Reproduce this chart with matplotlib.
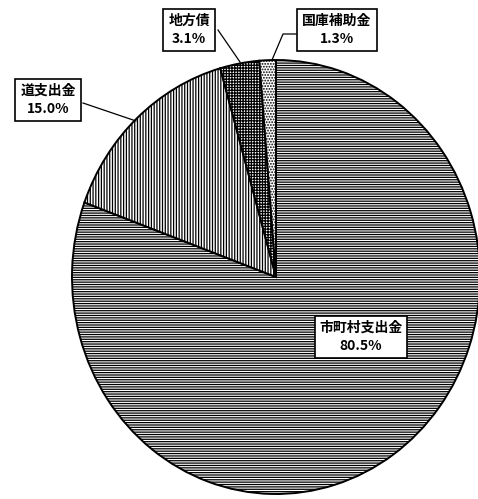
import matplotlib
matplotlib.use("Agg")
import matplotlib.pyplot as plt

plt.rcParams["font.family"] = ["Noto Sans CJK JP", "DejaVu Sans"]
plt.rcParams["hatch.linewidth"] = 0.9

labels = ["市町村支出金", "道支出金", "地方債", "国庫補助金"]
shares = [80.5, 15.0, 3.1, 1.3]
pct_text = ["80.5%", "15.0%", "3.1%", "1.3%"]
hatches = ["-------", "||||||", "++++++", "......"]

# pie geometry in pixels of the scanned original (slightly oval)
CX, CY, RX, RY = 276, 277, 204, 217
W, H = 478, 499


def px(x, y):
    return (x - CX) / RX, (CY - y) / RY


fig = plt.figure(figsize=(W / 100, H / 100), dpi=100)
ax = fig.add_axes([0, 0, 1, 1])

wedges, _ = ax.pie(
    shares,
    startangle=90,
    counterclock=False,
    colors=["white"] * len(shares),
    wedgeprops=dict(edgecolor="black", linewidth=1.4),
)
for w, h in zip(wedges, hatches):
    w.set_hatch(h)

ax.set_aspect("auto")
ax.set_xlim(px(0, 0)[0], px(W, 0)[0])
ax.set_ylim(px(0, H)[1], px(0, 0)[1])
ax.axis("off")

box = dict(boxstyle="square,pad=0.35", facecolor="white", edgecolor="black", linewidth=1.2)
label_pos = [(361, 337), (48, 100), (189, 30), (337, 30)]
for name, pct, (lx, ly) in zip(labels, pct_text, label_pos):
    ax.text(*px(lx, ly), f"{name}\n{pct}", ha="center", va="center",
            fontsize=10, fontweight="bold", linespacing=1.4, bbox=box, zorder=5)

# leader lines
ax.plot(*zip(px(83, 103), px(136, 121)), color="black", lw=0.9, zorder=4)
ax.plot(*zip(px(218, 30), px(240, 62)), color="black", lw=0.9, zorder=4)
ax.plot(*zip(px(296, 34), px(283, 34), px(272, 60)), color="black", lw=0.9, zorder=4)

fig.savefig("out.png", dpi=100)
